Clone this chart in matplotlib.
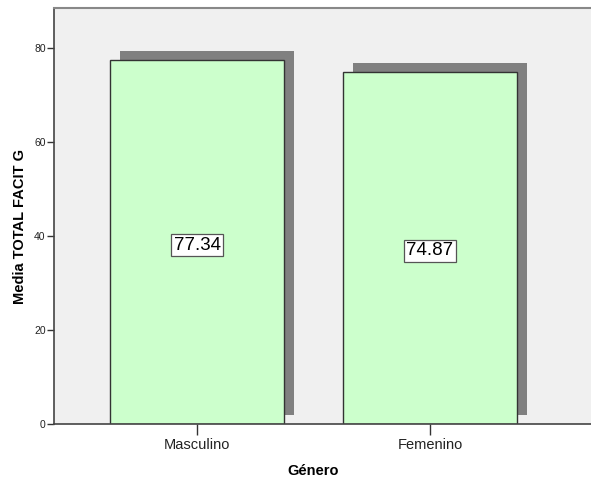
import matplotlib
matplotlib.use("Agg")
import matplotlib.pyplot as plt

plt.rcParams['font.family'] = ['Liberation Sans', 'DejaVu Sans']

categories = ["Masculino", "Femenino"]
means = [77.34, 74.87]
y_ticks = [0, 20, 40, 60, 80]

fig = plt.figure(figsize=(5.91, 4.79), dpi=100)
ax = fig.add_axes([54 / 591, 55 / 479, 537 / 591, 416.5 / 479])
ax.set_facecolor("#f0f0f0")

x = list(range(len(categories)))
width = 0.747
shadow_dx = 0.043
shadow_dy = 2.0

# drop shadows behind the bars
ax.bar([xi + shadow_dx for xi in x], means, width=width, bottom=shadow_dy,
       color="#808080", edgecolor="none", zorder=1)
# bars
ax.bar(x, means, width=width, color="#ccffcc", edgecolor="#333333",
       linewidth=1.0, zorder=2)

for xi, v in zip(x, means):
    ax.text(xi, v / 2 - 0.6, f"{v:.2f}", ha="center", va="center",
            fontsize=13.5, color="black", zorder=3,
            bbox=dict(boxstyle="square,pad=0.12", facecolor="white",
                      edgecolor="#555555", linewidth=0.9))

ax.set_xlim(-0.614, 1.691)
ax.set_ylim(0, 88.6)
ax.set_xticks(x)
ax.set_xticklabels(categories, fontsize=10.5, color="#222222")
ax.set_yticks(y_ticks)
ax.set_yticklabels([str(t) for t in y_ticks], fontsize=7.5, color="#222222")
ax.tick_params(axis="y", direction="out", length=5, width=1, color="#333333", pad=1)
ax.tick_params(axis="x", direction="out", length=8, width=1, color="#333333", pad=2)

for side in ["left", "bottom"]:
    ax.spines[side].set_color("#444444")
    ax.spines[side].set_linewidth(1.2)
ax.spines["top"].set_color("#888888")
ax.spines["top"].set_linewidth(1.5)
ax.spines["right"].set_visible(False)

ax.set_ylabel("Media TOTAL FACIT G", fontsize=10.5, fontweight="bold")
ax.set_xlabel("Género", fontsize=10.5, fontweight="bold")
ax.yaxis.set_label_coords(-0.05, 0.474)
ax.xaxis.set_label_coords(0.483, -0.097)

fig.savefig("out.png", dpi=100)
